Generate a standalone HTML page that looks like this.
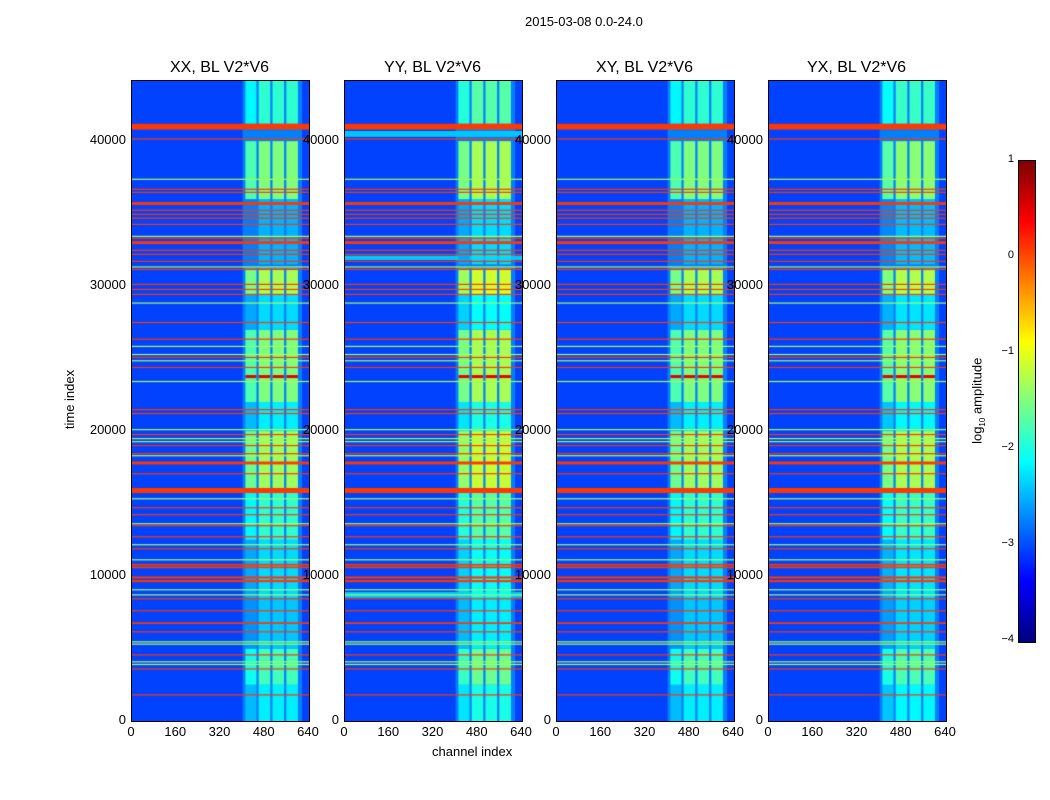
<!DOCTYPE html>
<html><head><meta charset="utf-8"><style>
body{margin:0;background:#fff;width:1050px;height:800px;position:relative;overflow:hidden;font-family:"Liberation Sans",sans-serif;}
.t{position:absolute;font-size:13px;color:#000;white-space:nowrap;}
.pt{position:absolute;font-size:16px;white-space:nowrap;}
canvas{position:absolute;border:1px solid #000;box-sizing:border-box;}
</style></head><body>
<div class="t" style="left:525px;top:14px">2015-03-08 0.0-24.0</div>
<div class="t" style="left:40px;top:392px;transform:rotate(-90deg)">time index</div>
<div class="t" style="left:432px;top:744px">channel index</div>
<div class="t" style="left:935px;top:392px;transform:rotate(-90deg)">log<sub style="font-size:8px">10</sub> amplitude</div>
<canvas id="cb" width="16" height="481" style="left:1018px;top:160px"></canvas>
<div id="root"></div>
<script>
// ---- data ----
const panelNames=["XX, BL V2*V6","YY, BL V2*V6","XY, BL V2*V6","YX, BL V2*V6"];
const panelLeft=[131,344,556,768];
const bandIntensity=[0,0.2,0,0.05];
const channelBands=[[410,450],[458,500],[508,550],[558,600]];
// activity segments [tStart,tEnd,log10 level]
const segStart=[0,2500,5000,8500,12500,16000,20000,22000,27000,29400,31500,36000,41200];
const segEnd  =[2500,5000,8500,12500,16000,20000,22000,27000,29400,31200,36000,40000,44150];
const segLevel=[-2.2,-1.8,-2.4,-2.3,-1.9,-1.35,-2.2,-1.5,-2.3,-1.3,-2.5,-1.5,-1.9];
// orange horizontal lines [time, thickness]
const orangeT=[41000,40150,36680,36470,35700,35230,34950,34680,34260,33300,33000,32470,32190,31710,31150,30120,29770,29430,27490,26340,25080,24390,21480,21210,19760,19000,18440,17800,17060,15900,14710,14230,13470,12710,11880,10780,10600,9900,9650,8430,7600,6750,6150,4560,3590,1800];
const orangeW=[400,80,50,50,200,50,50,50,50,50,200,50,50,50,50,50,50,50,50,50,50,50,60,60,60,60,60,200,60,350,60,60,60,60,60,120,120,150,150,60,60,120,60,60,60,50];
// green horizontal lines
const greenT=[37370,33430,31320,28830,25840,25280,24850,23420,20100,19480,19270,18300,15330,13610,12160,11120,9050,8700,5460,5300,4080,3900];
const yTicks=[0,10000,20000,30000,40000];
const xTicks=[0,160,320,480,640];
const cbTicks=[1,0,-1,-2,-3,-4];
// ---- scales ----
const W=177,H=640,TMAX=44150,CMAX=640,TOP=80;
const ty=t=>H*(1-t/TMAX);
const cx=c=>W*c/CMAX;
function jet(v){
  let x=Math.max(0,Math.min(1,(v+4)/5));
  const r=Math.max(0,Math.min(1,1.5-Math.abs(4*x-3)));
  const g=Math.max(0,Math.min(1,1.5-Math.abs(4*x-2)));
  const b=Math.max(0,Math.min(1,1.5-Math.abs(4*x-1)));
  return `rgb(${r*255|0},${g*255|0},${b*255|0})`;
}
const root=document.getElementById('root');
panelNames.forEach((nm,p)=>{
  const L=panelLeft[p];
  const c=document.createElement('canvas');
  
  
  c.width=W;c.height=H;c.style.left=L+'px';c.style.top=TOP+'px';
  root.appendChild(c);
  const g=c.getContext('2d');
  g.fillStyle=jet(-3.05);g.fillRect(0,0,W,H);
  g.fillStyle=jet(-2.75);g.fillRect(cx(400),0,cx(615)-cx(400),H);
  if(p==1){g.fillStyle=jet(-2.4);g.fillRect(0,ty(40700),W,ty(40300)-ty(40700));g.fillRect(0,ty(32100),W,ty(31800)-ty(32100));g.fillRect(0,ty(8900),W,ty(8500)-ty(8900));}
  segStart.forEach((s,i)=>{
    const lv=segLevel[i]+bandIntensity[p];
    channelBands.forEach((b,j)=>{
      g.fillStyle=jet(lv-(j==0?0.25:0));
      g.fillRect(cx(b[0]),ty(segEnd[i]),cx(b[1])-cx(b[0]),ty(s)-ty(segEnd[i]));
    });
  });
  greenT.forEach(t=>{g.fillStyle=jet(-1.3);g.fillRect(0,ty(t)-0.6,W,1.2);});
  orangeT.forEach((t,i)=>{const w=orangeW[i];g.fillStyle=jet(0.1);const h=Math.max(1.2,ty(t-w/2)-ty(t+w/2));g.fillRect(0,ty(t)-h/2,W,h);});
  g.fillStyle=jet(0.5);
  channelBands.forEach(b=>g.fillRect(cx(b[0]),ty(23760)-1.5,cx(b[1])-cx(b[0]),3));
  const t=document.createElement('div');t.className='pt';
  
  
  t.textContent=nm;t.style.left=(L+W/2)+'px';t.style.top='59px';t.style.transform='translateX(-50%)';
  root.appendChild(t);
  yTicks.forEach(v=>{
    const d=document.createElement('div');d.className='t';
    
    
    d.textContent=v;d.style.right=(1050-L+5)+'px';d.style.top=(TOP+ty(v)-8)+'px';root.appendChild(d);
  });
  xTicks.forEach(v=>{
    const d=document.createElement('div');d.className='t';
    
    
    d.textContent=v;d.style.left=(L+cx(v))+'px';d.style.top='724px';d.style.transform='translateX(-50%)';root.appendChild(d);
  });
});
const cb=document.getElementById('cb').getContext('2d');
for(let y=0;y<481;y++){cb.fillStyle=jet(1-5*y/480);cb.fillRect(0,y,16,1);}
cbTicks.forEach(v=>{
  const d=document.createElement('div');d.className='t';
  
  
  d.style.fontSize='11px';
  d.textContent=v<0?'\u2212'+(-v):v;d.style.right=(1050-1014)+'px';d.style.top=(160+(1-v)*96-7)+'px';root.appendChild(d);
});
</script>
</body></html>
